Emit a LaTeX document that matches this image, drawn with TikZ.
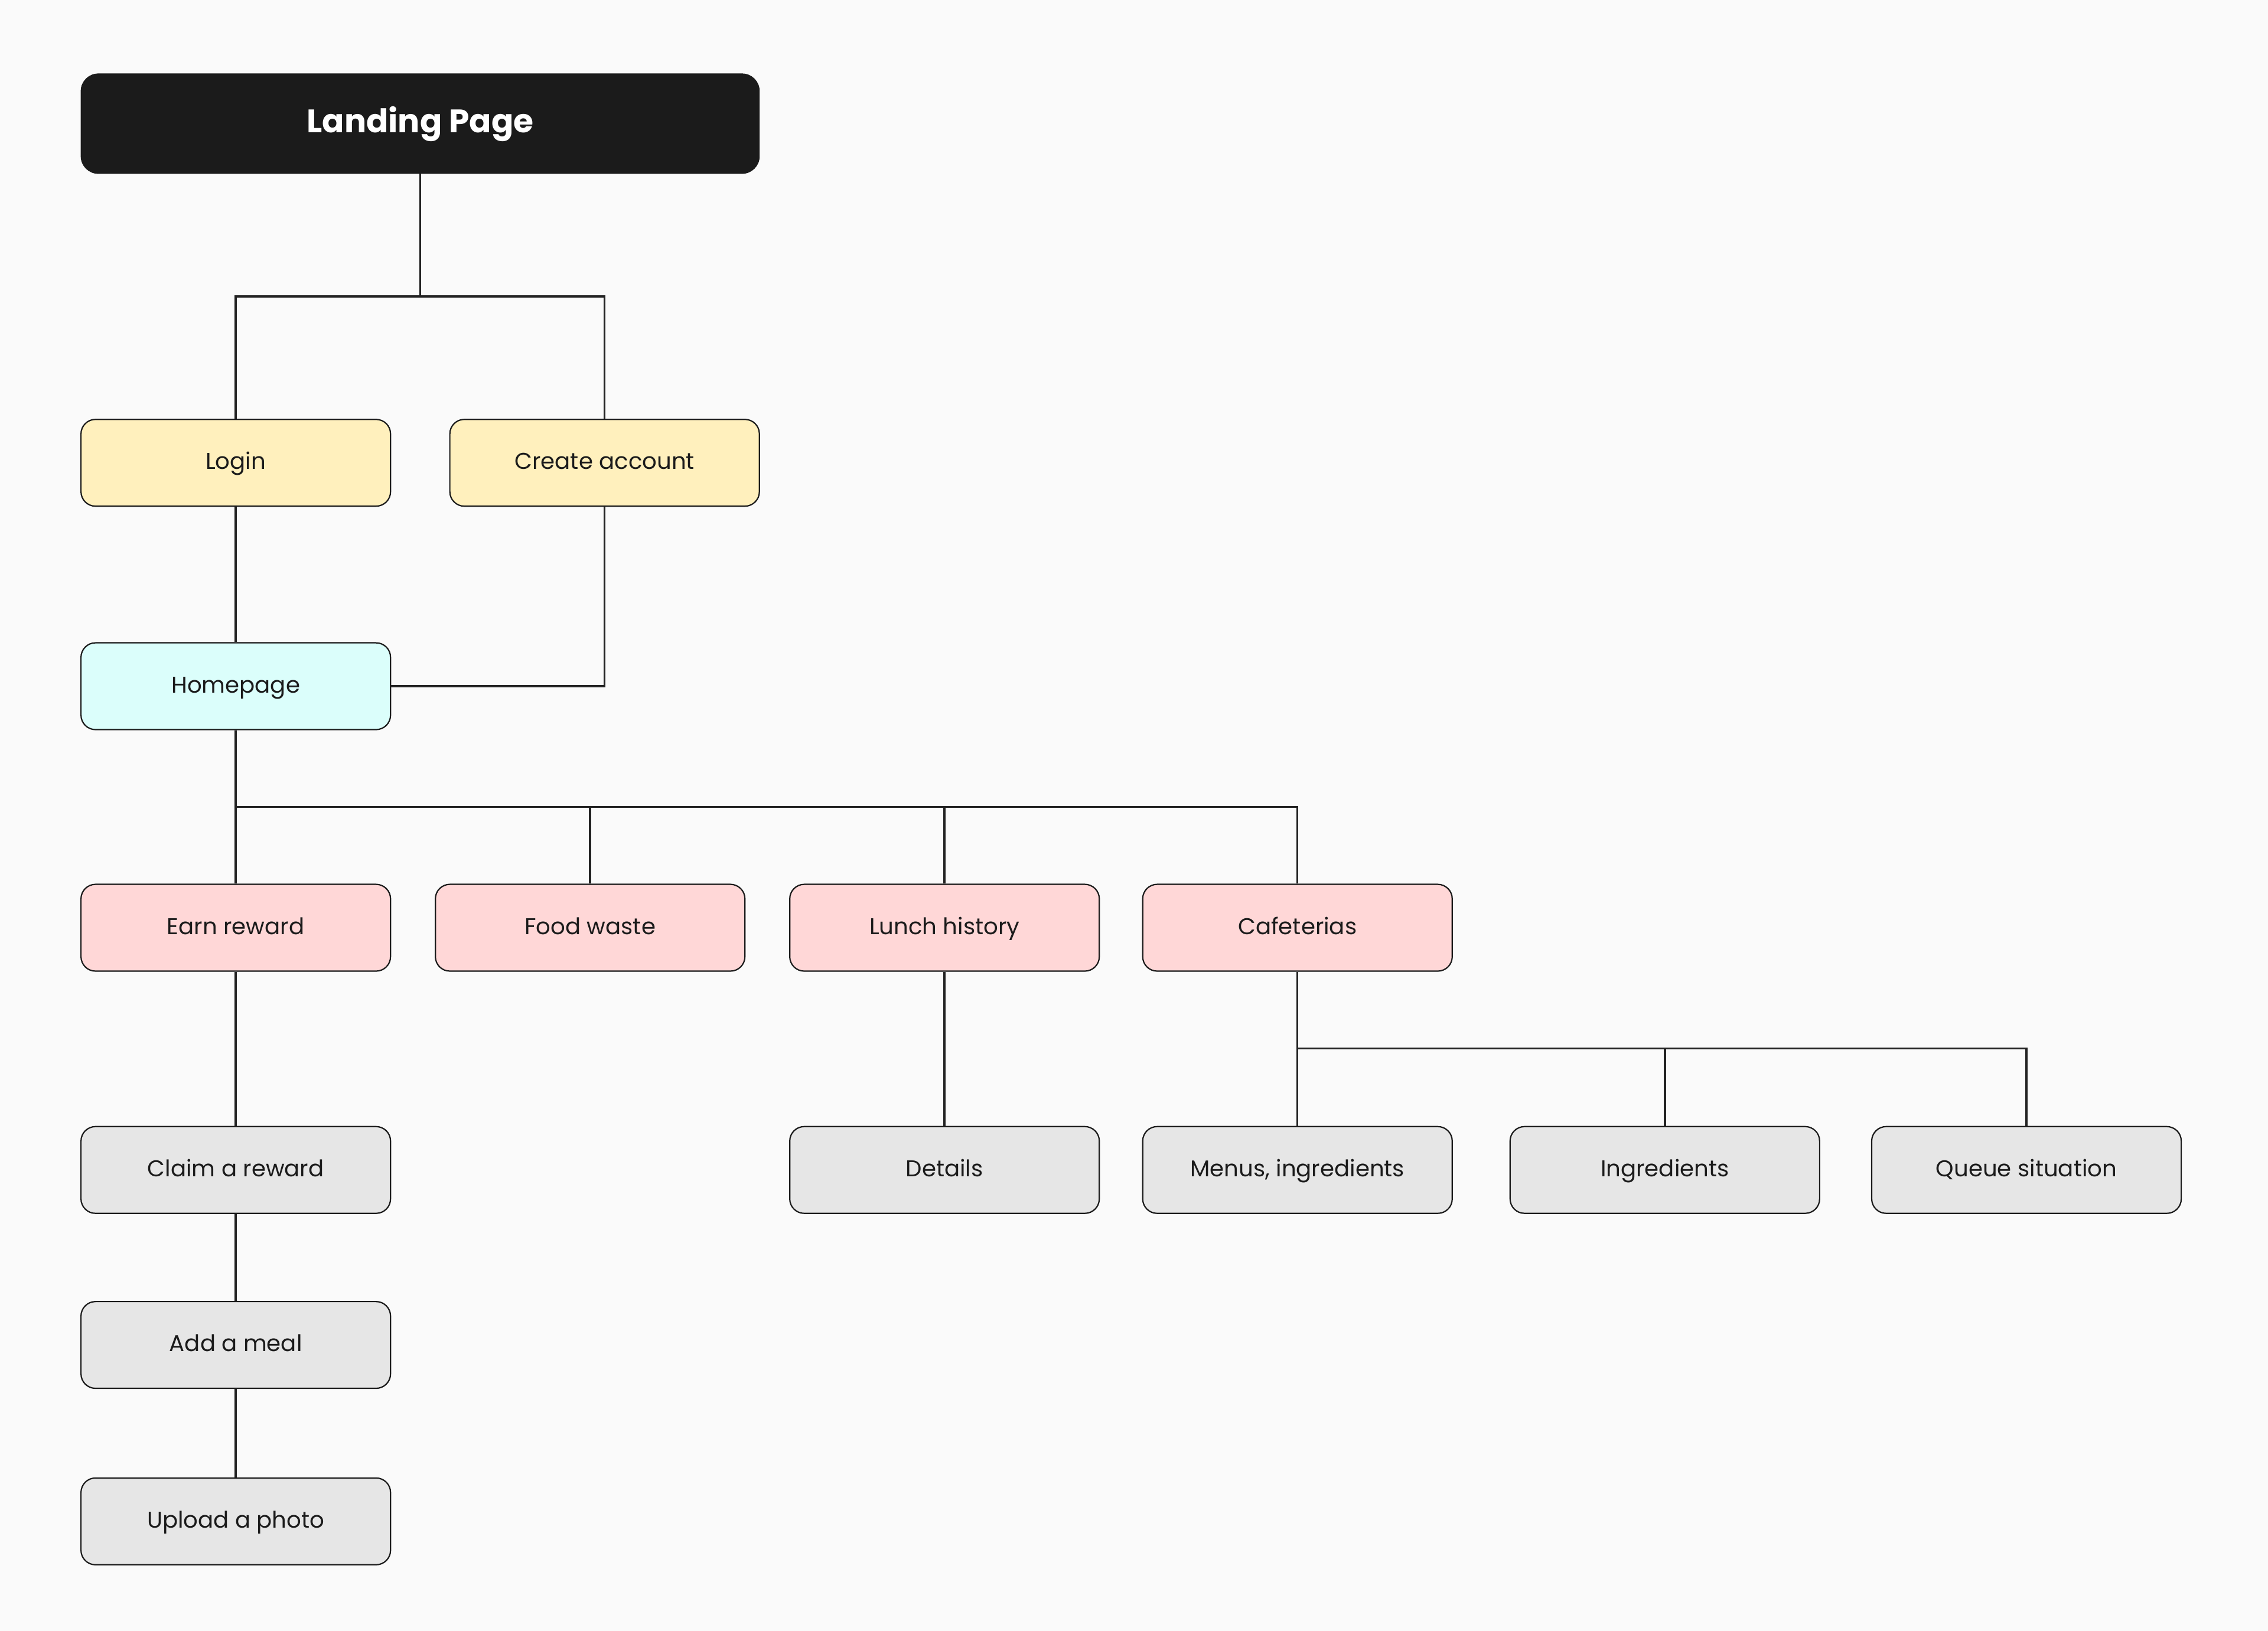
\documentclass[tikz,border=0pt]{standalone}
\usepackage{fontspec}
\setmainfont{Poppins}
\definecolor{bg}{HTML}{FAFAFA}
\definecolor{ink}{HTML}{1B1B1B}
\definecolor{yel}{HTML}{FFF0BD}
\definecolor{cyn}{HTML}{DBFEFB}
\definecolor{pnk}{HTML}{FFD7D7}
\definecolor{gry}{HTML}{E6E6E6}
\definecolor{wire}{HTML}{222222}
\tikzset{
  box/.style={draw=ink, line width=0.9pt, rounded corners=10pt, minimum width=214pt, minimum height=60pt, inner sep=0pt, text height=10pt, text depth=1pt, font=\fontsize{15.8}{18}\selectfont, text=ink},
  ybox/.style={box, fill=yel},
  cbox/.style={box, fill=cyn},
  pbox/.style={box, fill=pnk},
  gbox/.style={box, fill=gry},
  topbox/.style={draw=ink, fill=ink, rounded corners=12pt, minimum width=469pt, minimum height=69pt, inner sep=0pt, text height=14pt, text depth=2pt, text=white, font=\fontsize{22.5}{26}\selectfont\bfseries},
  wire/.style={draw=wire, line width=1.4pt}
}
\begin{document}
\begin{tikzpicture}[x=1pt,y=-1pt]
\fill[bg] (0,0) rectangle (1568,1127.8);
\useasboundingbox (0,0) rectangle (1568,1127.8);
\node[topbox] (landing) at (290.5,85.5) {Landing Page};
\node[ybox] (login) at (163,320) {Login};
\node[ybox] (create) at (418,320) {Create account};
\node[cbox] (home) at (163,474.5) {Homepage};
\node[pbox] (earn) at (163,641.5) {Earn reward};
\node[pbox] (food) at (408,641.5) {Food waste};
\node[pbox] (lunch) at (653,641.5) {Lunch history};
\node[pbox] (cafe) at (897,641.5) {Cafeterias};
\node[gbox] (claim) at (163,809) {Claim a reward};
\node[gbox] (details) at (653,809) {Details};
\node[gbox] (menus) at (897,809) {Menus, ingredients};
\node[gbox] (ingr) at (1151,809) {Ingredients};
\node[gbox] (queue) at (1401,809) {Queue situation};
\node[gbox] (meal) at (163,930) {Add a meal};
\node[gbox] (upload) at (163,1052) {Upload a photo};
\coordinate (b1) at (290.5,205);
\coordinate (b2) at (163,558);
\coordinate (b3) at (897,725);
\draw[wire] (landing.south) -- (b1);
\draw[wire] (b1) -| (login.north);
\draw[wire] (b1) -| (create.north);
\draw[wire] (login.south) -- (home.north);
\draw[wire] (create.south) |- (home.east);
\draw[wire] (home.south) -- (earn.north);
\draw[wire] (b2) -| (food.north);
\draw[wire] (b2) -| (lunch.north);
\draw[wire] (b2) -| (cafe.north);
\draw[wire] (earn.south) -- (claim.north);
\draw[wire] (lunch.south) -- (details.north);
\draw[wire] (claim.south) -- (meal.north);
\draw[wire] (meal.south) -- (upload.north);
\draw[wire] (cafe.south) -- (menus.north);
\draw[wire] (b3) -| (ingr.north);
\draw[wire] (b3) -| (queue.north);
\end{tikzpicture}
\end{document}
